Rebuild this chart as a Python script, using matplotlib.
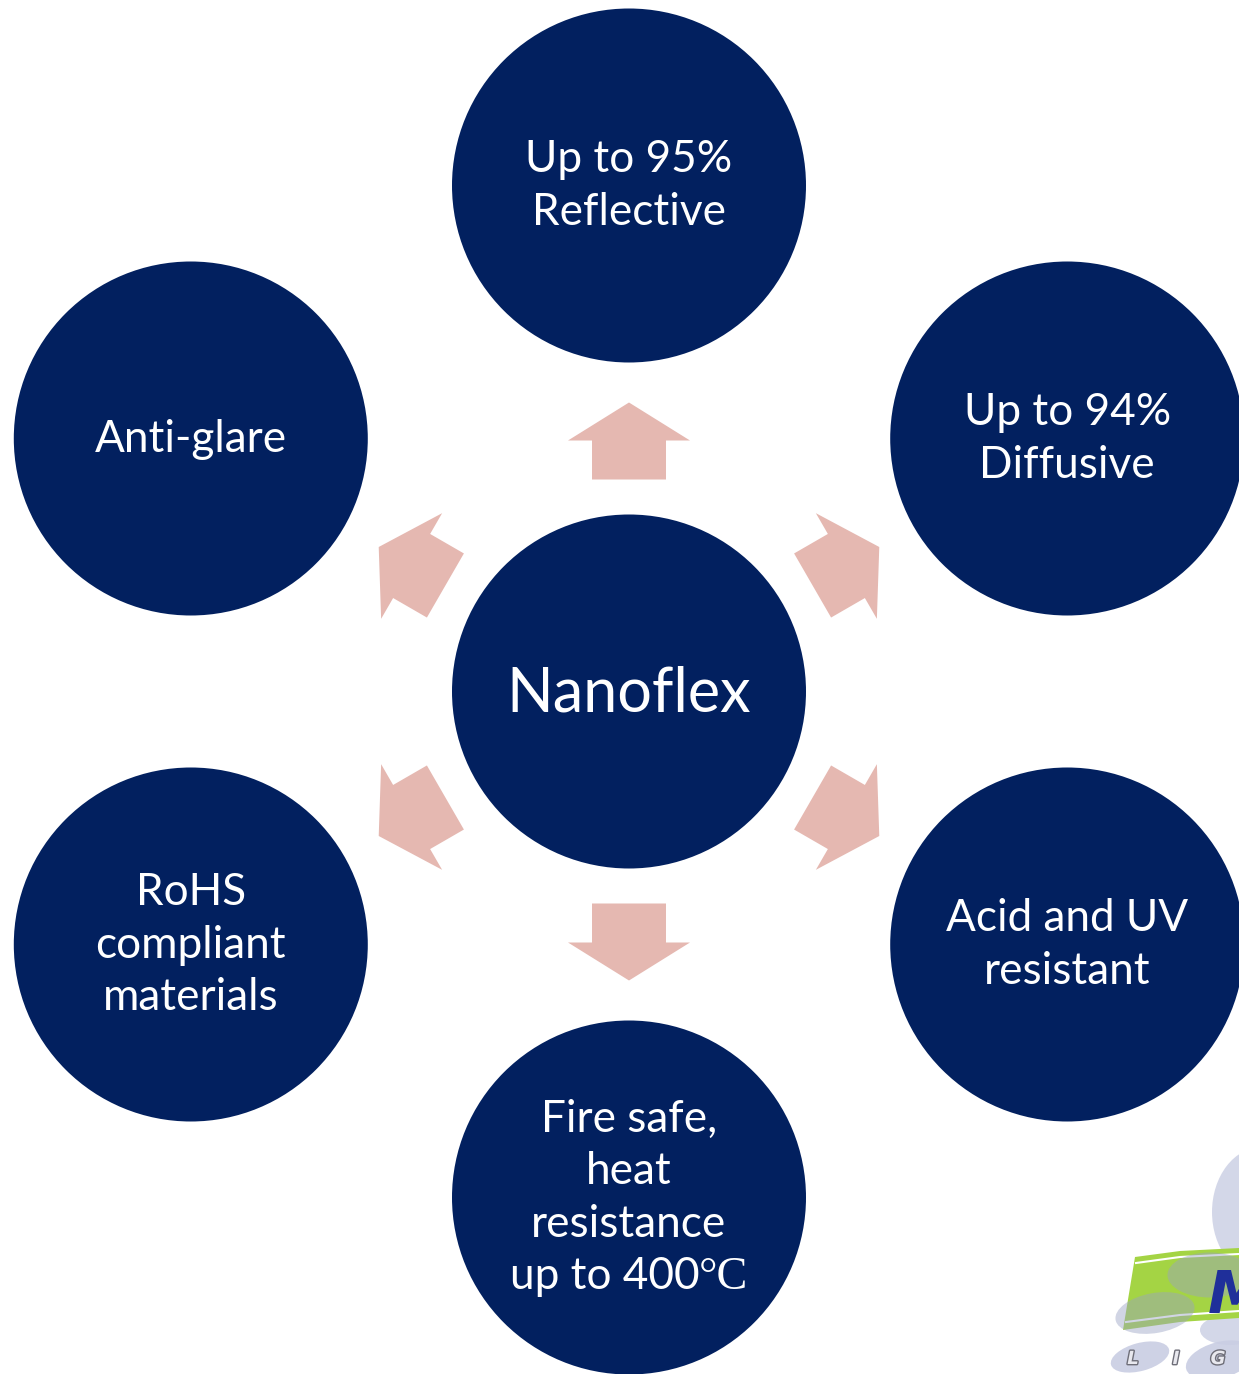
import numpy as np
import matplotlib
matplotlib.use("Agg")
import matplotlib.pyplot as plt
import matplotlib.patheffects as pe
from matplotlib.patches import Circle, Polygon, Ellipse

# ---- data ----
center_label = "Nanoflex"
outer_labels = [
    ["Up to 95%", "Reflective"],
    ["Up to 94%", "Diffusive"],
    ["Acid and UV", "resistant"],
    ["Fire safe,", "heat", "resistance", "up to 400"],
    ["RoHS", "compliant", "materials"],
    ["Anti-glare"],
]
outer_angles = [90, 30, -30, -90, -150, 150]   # degrees, counter-clockwise from east
unit_suffix = "°C"                                # appended (serif) to the 4th label

# ---- style ----
W, H = 1239, 1374
NAVY = "#02205F"
PINK = "#E5B8B1"
FONT = "Lato"
cx, cy = 629, 691.5
R_CIRCLE = 177
R_ORBIT = 506
PITCH = 52.3
FS = 31.8
FS_CENTER = 44

fig = plt.figure(figsize=(W / 100, H / 100), dpi=100)
ax = fig.add_axes([0, 0, 1, 1])
ax.set_xlim(0, W)
ax.set_ylim(H, 0)
ax.set_aspect("equal")
ax.axis("off")

# arrow shape in local (along, across) coordinates
arrow_local = np.array([(212, -37), (251, -37), (251, -61), (289, 0),
                        (251, 61), (251, 37), (212, 37)], float)


def to_xy(a_deg, along, across):
    a = np.deg2rad(a_deg)
    u = np.array([np.cos(a), -np.sin(a)])
    v = np.array([np.sin(a), np.cos(a)])
    return cx + along * u[0] + across * v[0], cy + along * u[1] + across * v[1]


# circles
ax.add_patch(Circle((cx, cy), R_CIRCLE, color=NAVY, lw=0, zorder=2))
for a in outer_angles:
    x, y = to_xy(a, R_ORBIT, 0)
    ax.add_patch(Circle((x, y), R_CIRCLE, color=NAVY, lw=0, zorder=2))
    pts = [to_xy(a, p, q) for p, q in arrow_local]
    ax.add_patch(Polygon(pts, closed=True, color=PINK, lw=0, zorder=2))

# center text
ax.text(cx, cy + 20.5, center_label, color="white", fontsize=FS_CENTER,
        family=FONT, ha="center", va="baseline", zorder=5)

fig.canvas.draw()
renderer = fig.canvas.get_renderer()

for i, (a, lines) in enumerate(zip(outer_angles, outer_labels)):
    x, y = to_xy(a, R_ORBIT, 0)
    n = len(lines)
    for j, line in enumerate(lines):
        base = y + (j - (n - 1) / 2) * PITCH + 13
        if i == 3 and j == n - 1:
            t1 = ax.text(0, base, line, color="white", fontsize=FS, family=FONT,
                         ha="left", va="baseline", zorder=5)
            t2 = ax.text(0, base, unit_suffix, color="white", fontsize=FS + 1.5,
                         family="Liberation Serif", ha="left", va="baseline", zorder=5)
            w1 = t1.get_window_extent(renderer).width
            w2 = t2.get_window_extent(renderer).width
            total = w1 + w2
            x0 = x - total / 2
            t1.set_x(x0)
            t2.set_x(x0 + w1)
        else:
            ax.text(x, base, line, color="white", fontsize=FS, family=FONT,
                    ha="center", va="baseline", zorder=5)

# ---- partial logo, bottom-right ----
LAV = "#C9CDE3"
ax.add_patch(Ellipse((1262, 1212), 100, 130, color=LAV, alpha=0.8, lw=0, zorder=1))
band = [(1135, 1257), (1180, 1251), (1239, 1248), (1239, 1318), (1180, 1322), (1123, 1330)]
ax.add_patch(Polygon(band, closed=True, color="#A4D444", lw=0, zorder=3))
ax.plot([1136, 1180, 1239], [1263, 1257, 1254], color="white", lw=1.5, zorder=4)
ax.plot([1126, 1180, 1239], [1322, 1315, 1311], color="white", lw=1.5, zorder=4)
ax.add_patch(Ellipse((1210, 1275), 85, 45, color="#9AA2C4", alpha=0.45, lw=0, zorder=4))
ax.add_patch(Ellipse((1155, 1313), 80, 40, angle=-10, color="#9AA2C4", alpha=0.45, lw=0, zorder=4))
ax.add_patch(Ellipse((1230, 1330), 60, 30, color=LAV, alpha=0.8, lw=0, zorder=2))
ax.add_patch(Ellipse((1140, 1357), 60, 28, angle=-15, color=LAV, alpha=0.9, lw=0, zorder=2))
ax.add_patch(Ellipse((1220, 1360), 70, 36, angle=-15, color=LAV, alpha=0.9, lw=0, zorder=2))
ax.text(1208, 1313, "M", color="#1F2F9A", fontsize=42, fontweight="bold",
        family="DejaVu Sans", style="italic", ha="left", va="baseline", zorder=5)
for lx, ch in zip([1133, 1176, 1218], ["L", "I", "G"]):
    ax.text(lx, 1364, ch, color="#E8E8EE", fontsize=13, fontweight="bold",
            style="italic", family="DejaVu Sans", ha="center", va="baseline", zorder=5,
            path_effects=[pe.withStroke(linewidth=2, foreground="#6E6E78")])

fig.savefig("out.png", dpi=100)
